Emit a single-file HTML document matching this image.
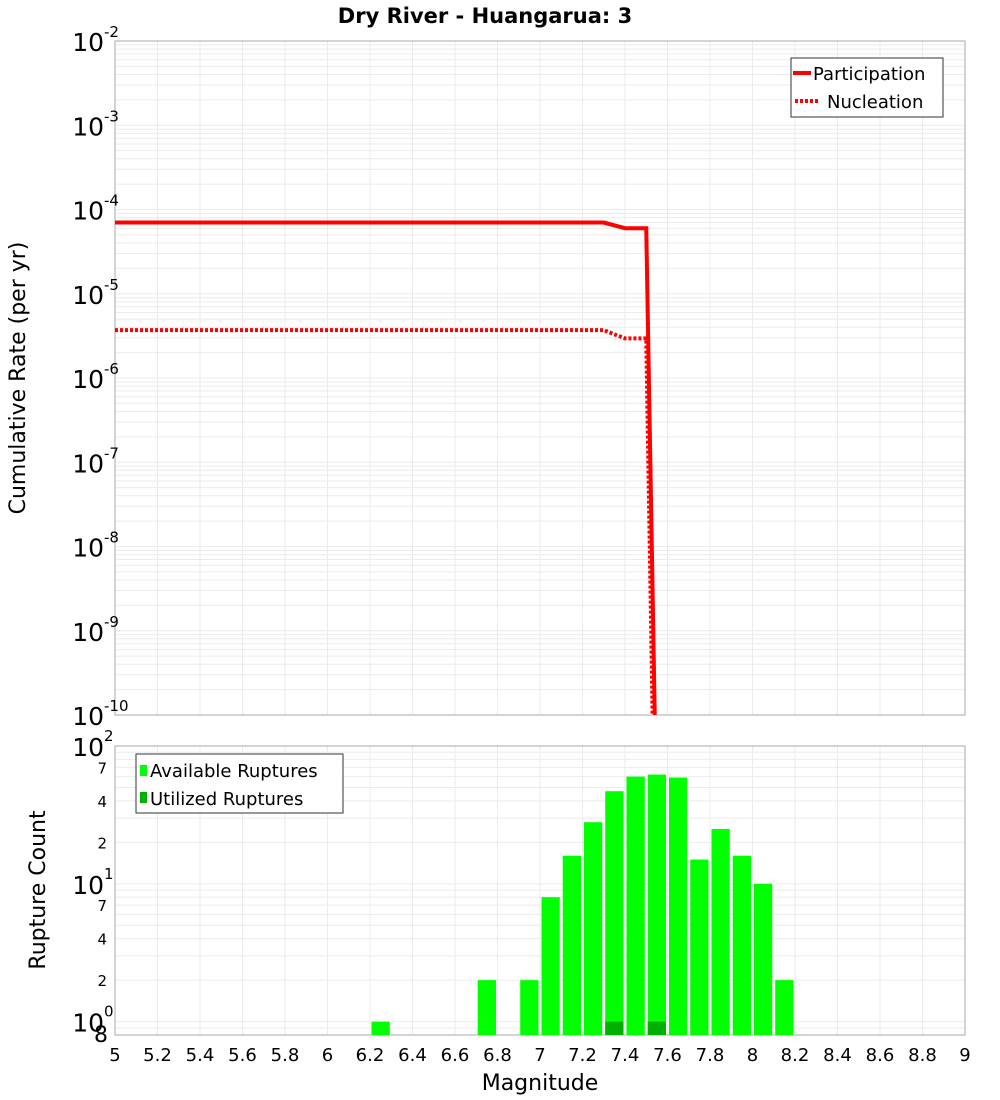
<!DOCTYPE html>
<html><head><meta charset="utf-8"><style>
body{margin:0;background:#fff;}
svg{display:block;font-family:"DejaVu Sans","Liberation Sans",sans-serif;}
</style></head><body>
<svg id="c" width="1000" height="1100"></svg>
<script>
// ---- data ----
const partMag = [5.0, 7.3, 7.4, 7.5, 7.54];
const partRate = [7e-5, 7e-5, 6e-5, 6e-5, 1e-10];
const nuclMag = [5.0, 7.3, 7.4, 7.5, 7.53];
const nuclRate = [3.7e-6, 3.7e-6, 2.95e-6, 2.95e-6, 1e-10];
const binMag = [6.25, 6.75, 6.95, 7.05, 7.15, 7.25, 7.35, 7.45, 7.55, 7.65, 7.75, 7.85, 7.95, 8.05, 8.15];
const availCount = [1, 2, 2, 8, 16, 28, 47, 60, 62, 59, 15, 25, 16, 10, 2];
const utilMag = [7.35, 7.55];
const utilCount = [1, 1];
const xTicks = [5,5.2,5.4,5.6,5.8,6,6.2,6.4,6.6,6.8,7,7.2,7.4,7.6,7.8,8,8.2,8.4,8.6,8.8,9];
const topDecades = [-2,-3,-4,-5,-6,-7,-8,-9,-10];
const botMinorLabels = [2,4,7];

const NS="http://www.w3.org/2000/svg";
const svg=document.getElementById('c');
function mk(tag,attrs,parent){const e=document.createElementNS(NS,tag);for(const k in attrs)e.setAttribute(k,attrs[k]);(parent||svg).appendChild(e);return e;}
const L=115,R=965,T1=41,B1=715,T2=746,B2=1035;
const X=m=>L+(m-5)/(9-5)*(R-L);
const Y1=v=>T1+(-2-Math.log10(v))/8*(B1-T1);
const bLo=Math.log10(0.8);
const Y2=v=>B2-(Math.log10(v)-bLo)/(2-bLo)*(B2-T2);

// title
const title=mk('text',{x:485,y:23,'text-anchor':'middle','font-size':21,'font-weight':'bold'});
title.textContent='Dry River - Huangarua: 3';



// grids
const g=mk('g',{});


for(let d=-10;d<-2;d++){for(let k=1;k<10;k++){const y=Y1(k*Math.pow(10,d));mk('line',{x1:L,x2:R,y1:y,y2:y,stroke:'#ebebeb','stroke-width':1},g);}}
for(let d=-1;d<2;d++){for(let k=1;k<10;k++){const v=k*Math.pow(10,d);if(v<0.8||v>100)continue;const y=Y2(v);mk('line',{x1:L,x2:R,y1:y,y2:y,stroke:'#ebebeb','stroke-width':1},g);}}
xTicks.forEach(t=>{const x=X(t);mk('line',{x1:x,x2:x,y1:T1,y2:B1,stroke:'#ebebeb'},g);mk('line',{x1:x,x2:x,y1:T2,y2:B2,stroke:'#ebebeb'},g);});

// frames
const f1=mk('rect',{x:L,y:T1,width:R-L,height:B1-T1,fill:'none',stroke:'#aaa'});


const f2=mk('rect',{x:L,y:T2,width:R-L,height:B2-T2,fill:'none',stroke:'#aaa'});



// top y labels
topDecades.forEach(d=>{const y=Y1(Math.pow(10,d));
 const t=mk('text',{x:104,y:y+10,'text-anchor':'end','font-size':25});t.textContent='10';
 
 
 const s=mk('text',{x:104,y:y-4,'font-size':15});s.textContent=String(d);
 
 });

// bottom y labels
[0,1,2].forEach(d=>{const y=Y2(Math.pow(10,d));
 const t=mk('text',{x:104,y:y+10,'text-anchor':'end','font-size':25});t.textContent='10';
 
 
 const s=mk('text',{x:104,y:y-5,'font-size':15});s.textContent=String(d);
 
 });
[0,1].forEach(d=>botMinorLabels.forEach(k=>{const y=Y2(k*Math.pow(10,d));
 const t=mk('text',{x:107,y:y+6,'text-anchor':'end','font-size':15});t.textContent=String(k);
 
 }));
const e8=mk('text',{x:108,y:1042,'text-anchor':'end','font-size':22});e8.textContent='8';



// x labels
xTicks.forEach(t=>{const tx=mk('text',{x:X(t),y:1061,'text-anchor':'middle','font-size':18});tx.textContent=String(t);
 
 });
const xt=mk('text',{x:540,y:1090,'text-anchor':'middle','font-size':22});xt.textContent='Magnitude';


const yt1=mk('text',{x:0,y:0,'text-anchor':'middle','font-size':22,transform:'translate(25,378) rotate(-90)'});yt1.textContent='Cumulative Rate (per yr)';


const yt2=mk('text',{x:0,y:0,'text-anchor':'middle','font-size':22,transform:'translate(45,890) rotate(-90)'});yt2.textContent='Rupture Count';



// bars
const bw=(X(0.1)-X(0))*0.86;
binMag.forEach((m,i)=>{const y=Y2(availCount[i]);const r=mk('rect',{x:X(m)-bw/2,y:y,width:bw,height:B2-y,fill:'#00ff00'});
 
 });
utilMag.forEach((m,i)=>{const y=Y2(utilCount[i]);const r=mk('rect',{x:X(m)-bw/2,y:y,width:bw,height:B2-y,fill:'#00b000'});
 
 });

// lines
const clip=mk('clipPath',{id:'cp'});mk('rect',{x:L,y:T1,width:R-L,height:B1-T1},clip);
const pts=(ms,vs)=>ms.map((m,i)=>X(m)+','+Y1(vs[i])).join(' ');
const pn=mk('polyline',{points:pts(nuclMag,nuclRate),fill:'none',stroke:'#f00','stroke-width':4,'stroke-dasharray':'3,2','clip-path':'url(#cp)'});


const pp=mk('polyline',{points:pts(partMag,partRate),fill:'none',stroke:'#f00','stroke-width':4,'clip-path':'url(#cp)'});



// legends
const lg=mk('g',{});


mk('rect',{x:791,y:58,width:152,height:59,fill:'#fff',stroke:'#333'},lg);
mk('line',{x1:793,x2:811,y1:73,y2:73,stroke:'#f00','stroke-width':4},lg);
mk('line',{x1:795,x2:820,y1:101,y2:101,stroke:'#f00','stroke-width':4,'stroke-dasharray':'3,2'},lg);
let t=mk('text',{x:813,y:80,'font-size':18},lg);t.textContent='Participation';
t=mk('text',{x:827,y:108,'font-size':18},lg);t.textContent='Nucleation';
const lg2=mk('g',{});


mk('rect',{x:136,y:754,width:207,height:59,fill:'#fff',stroke:'#333'},lg2);
mk('rect',{x:140,y:765,width:7,height:11,fill:'#00ff00'},lg2);
mk('rect',{x:140,y:792,width:7,height:11,fill:'#00b000'},lg2);
t=mk('text',{x:150,y:777,'font-size':18},lg2);t.textContent='Available Ruptures';
t=mk('text',{x:150,y:805,'font-size':18},lg2);t.textContent='Utilized Ruptures';
</script>
</body></html>
